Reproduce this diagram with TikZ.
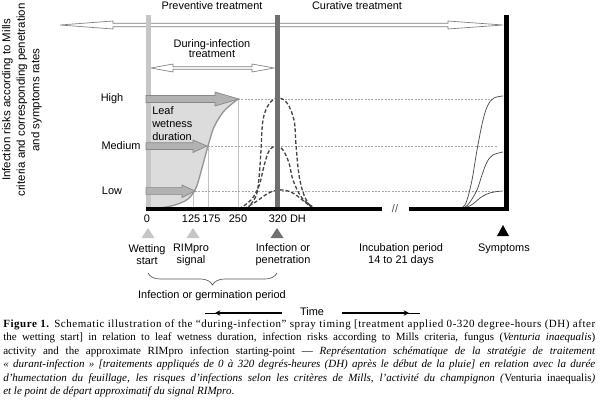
\documentclass[tikz,border=0pt]{standalone}
\usepackage{fontspec}
\setmainfont{Liberation Serif}
\setsansfont{Liberation Sans}
\usetikzlibrary{arrows.meta,decorations.pathreplacing}
\definecolor{lightbar}{RGB}{198,198,198}
\definecolor{darkbar}{RGB}{112,112,112}
\definecolor{wetfill}{RGB}{220,220,220}
\definecolor{wetedge}{RGB}{150,150,150}
\definecolor{blockfill}{RGB}{178,178,178}
\definecolor{blockedge}{RGB}{135,135,135}
\definecolor{dotc}{RGB}{165,165,165}
\definecolor{bellc}{RGB}{70,70,70}
\definecolor{thinv}{RGB}{195,195,195}
\definecolor{hollow}{RGB}{125,125,125}
\begin{document}
\begin{tikzpicture}[x=0.75pt,y=-0.75pt,
  lbl/.style={font=\sffamily\fontsize{8.2}{9}\selectfont, inner sep=0pt, align=center},
  blockarrow/.style={fill=blockfill, draw=blockedge, line width=0.5pt},
  hollowarrow/.style={fill=white, draw=hollow, line width=0.5pt},
  levelline/.style={dotc, line width=0.6pt, dash pattern=on 1.5pt off 1pt},
  bell/.style={bellc, line width=1pt, dash pattern=on 2.8pt off 1.6pt},
  sympt/.style={black!70, line width=0.55pt},
  thinvert/.style={thinv, line width=0.5pt}]
\useasboundingbox (0,0) rectangle (600,407);

% leaf wetness area
\fill[wetfill] (151,99) -- plot[smooth] coordinates {(238,99) (224,111) (214,127) (208,146) (202,168) (196,188) (188,199) (175,205) (160,208) (151,209)} -- cycle;

% thin vertical lines
\draw[thinvert] (193,191) -- (193,209);
\draw[thinvert] (208,146) -- (208,209);
\draw[thinvert] (238,99) -- (238,209);

\draw[wetedge, line width=1pt] plot[smooth] coordinates {(238,99) (224,111) (214,127) (208,146) (202,168) (196,188) (188,199) (175,205) (160,208) (151,209)};

% level lines
\draw[levelline] (238,99) -- (494,99);
\draw[levelline] (208,146) -- (498,146);
\draw[levelline] (195,191) -- (497,191);

% infection / penetration bells
\draw[bell] plot[smooth, tension=0.6] coordinates {(247,209) (256,196) (259,178) (261,150) (263,120) (269,104) (278,98) (287,103) (294,120) (296,145) (299,175) (304,195) (312,209)};
\draw[bell] plot[smooth, tension=0.6] coordinates {(239,209) (251,200) (259,186) (264,166) (269,151) (276,146) (283,150) (289,163) (293,180) (302,198) (316,209)};
\draw[bell] plot[smooth, tension=0.6] coordinates {(244,209) (257,201) (267,194) (277,190) (288,191) (296,195) (306,203) (314,209)};

% symptom curves
\draw[sympt] plot[smooth, tension=0.6] coordinates {(456,209) (463,207) (467,200) (472,180) (477,150) (483,120) (488,105) (494,98) (503,96)};
\draw[sympt] plot[smooth, tension=0.6] coordinates {(458,209) (465,207) (470,202) (477,190) (482,175) (487,162) (493,155) (503,152)};
\draw[sympt] plot[smooth, tension=0.6] coordinates {(460,209) (467,207) (473,204) (480,198) (487,194) (494,192) (503,191)};

% top treatment arrow
\draw[hollowarrow] (60,25) -- (113,21) -- (113,23.3) -- (448,23.3) -- (448,21) -- (503,25) -- (448,29) -- (448,26.7) -- (113,26.7) -- (113,29) -- cycle;
% during-infection arrow
\draw[hollowarrow] (151,68) -- (173,64) -- (173,66.7) -- (252,66.7) -- (252,64) -- (274,68) -- (252,72) -- (252,69.3) -- (173,69.3) -- (173,72) -- cycle;

% vertical bars
\fill[lightbar] (146,15) rectangle (151,209);
\fill[darkbar] (274.5,15) rectangle (279.5,209);
\fill[black] (504,15) rectangle (508.5,211);

% time axis
\draw[line width=2.3pt] (146,209) -- (382,209);
\draw[line width=2.3pt] (409,209) -- (508.5,209);
\node[lbl, text=black!70] (brk) at (395,209) {//};

% risk level block arrows
\draw[blockarrow] (146,95.5) -- (215,95.5) -- (215,92) -- (239,99) -- (215,106) -- (215,102.5) -- (146,102.5) -- cycle;
\draw[blockarrow] (146,142.8) -- (193,142.8) -- (193,140) -- (207,146) -- (193,152.5) -- (193,149.5) -- (146,149.5) -- cycle;
\draw[blockarrow] (146,187.6) -- (182,187.6) -- (182,185) -- (195,191) -- (182,197.5) -- (182,194.4) -- (146,194.4) -- cycle;

% markers
\fill[lightbar] (141.5,238) -- (148,228) -- (154.5,238) -- cycle;
\fill[lightbar] (186.5,238) -- (193,228) -- (199.5,238) -- cycle;
\fill[darkbar] (270.5,238) -- (277,228) -- (283.5,238) -- cycle;
\fill[black] (497,236) -- (503,225) -- (509,236) -- cycle;

% brace
\draw[black!65, line width=0.5pt, decorate, decoration={brace, mirror, amplitude=9pt}] (148,273) -- (277,273);

% time arrows
\draw[line width=1.5pt, {Stealth[length=4pt,width=4pt]}-] (215,313) -- (282,313);
\draw[line width=0.5pt] (205,313) -- (216,313);
\draw[line width=1.5pt, -{Stealth[length=4pt,width=4pt]}] (342,313) -- (409,313);
\draw[line width=0.5pt] (408,313) -- (420,313);

% texts
\node[lbl] (prev) at (212,6) {Preventive treatment};
\node[lbl] (cur) at (357,6) {Curative treatment};
\node[lbl, font=\sffamily\fontsize{8.2}{7.6}\selectfont] (during) at (212,48.5) {During-infection\\treatment};
\node[lbl, rotate=90, font=\sffamily\fontsize{8.6}{10.9}\selectfont] (ylab) at (22,100) {Infection risks according to Mills\\criteria and corresponding penetration\\and symptoms rates};
\node[lbl] (high) at (112,99) {High};
\node[lbl] (medium) at (121,146) {Medium};
\node[lbl] (low) at (112,191) {Low};
\node[lbl, align=left, anchor=west, font=\sffamily\fontsize{8.2}{10}\selectfont] (leaf) at (152,123.5) {Leaf\\wetness\\duration};
\node[lbl] (t0) at (147,219) {0};
\node[lbl, anchor=east] (t125) at (200.5,219) {125};
\node[lbl, anchor=west] (t175) at (202,219) {175};
\node[lbl] (t250) at (238,219) {250};
\node[lbl, anchor=west] (t320) at (268.5,219) {320 DH};
\node[lbl] (wet) at (147,254.5) {Wetting\\start};
\node[lbl] (rim) at (191,255) {RIMpro\\signal};
\node[lbl] (pen) at (283,255) {Infection or\\penetration};
\node[lbl] (incub) at (401,255) {Incubation period\\14 to 21 days};
\node[lbl] (sym) at (504,249) {Symptoms};
\node[lbl] (germ) at (212,296) {Infection or germination period};
\node[lbl] (time) at (312,312) {Time};

% caption
\node[anchor=north west, inner sep=0pt, text width=444pt, align=justify, font=\fontsize{8.25}{10.05}\selectfont] (cap) at (3,319.5) {{\addfontfeature{LetterSpace=5}\textbf{Figure 1.} Schematic illustration of the “during-infection” spray timing [treatment applied 0-320 degree-hours (DH) after}\linebreak
the wetting start] in relation to leaf wetness duration, infection risks according to Mills criteria, fungus (\textit{Venturia inaequalis})\linebreak
activity and the approximate RIMpro infection starting-point — \textit{Représentation schématique de la stratégie de traitement}\linebreak
\textit{« durant-infection » [traitements appliqués de 0 à 320 degrés-heures (DH) après le début de la pluie] en relation avec la durée}\linebreak
\textit{d’humectation du feuillage, les risques d’infections selon les critères de Mills, l’activité du champignon (}Venturia inaequalis\textit{)}\linebreak
\textit{et le point de départ approximatif du signal RIMpro}.};
\end{tikzpicture}
\end{document}
